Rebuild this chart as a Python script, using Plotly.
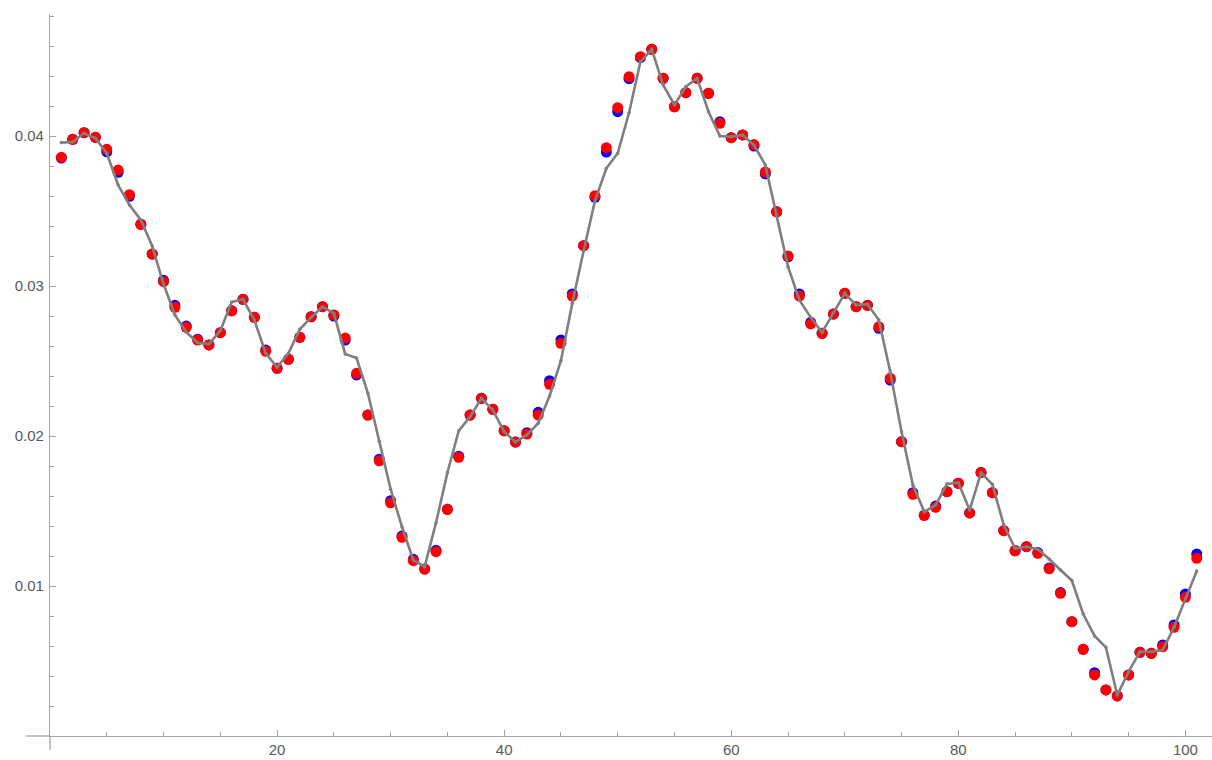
import plotly.graph_objects as go

# sample index
n = list(range(1, 102))

# observed series (red) read point by point
observed = [
    0.03858, 0.03978, 0.04022, 0.03991, 0.03911, 0.03773, 0.03609, 0.03411, 0.03213, 0.03029,
    0.02858, 0.02725, 0.02640, 0.02607, 0.02689, 0.02835, 0.02911, 0.02791, 0.02565, 0.02451,
    0.02511, 0.02658, 0.02795, 0.02862, 0.02807, 0.02653, 0.02418, 0.02140, 0.01835, 0.01555,
    0.01325, 0.01169, 0.01113, 0.01229, 0.01511, 0.01858, 0.02140, 0.02251, 0.02178, 0.02035,
    0.01960, 0.02013, 0.02140, 0.02345, 0.02618, 0.02933, 0.03269, 0.03602, 0.03922, 0.04189,
    0.04395, 0.04529, 0.04578, 0.04385, 0.04195, 0.04289, 0.04385, 0.04285, 0.04085, 0.03989,
    0.04007, 0.03943, 0.03760, 0.03495, 0.03200, 0.02933, 0.02747, 0.02685, 0.02813, 0.02951,
    0.02862, 0.02871, 0.02729, 0.02385, 0.01962, 0.01611, 0.01471, 0.01525, 0.01629, 0.01685,
    0.01487, 0.01757, 0.01622, 0.01369, 0.01235, 0.01262, 0.01218, 0.01115, 0.00951, 0.00762,
    0.00578, 0.00407, 0.00307, 0.00267, 0.00407, 0.00558, 0.00551, 0.00595, 0.00725, 0.00925,
    0.01185,
]

# reference series (blue), nearly identical to the observed one
reference = [
    0.03853, 0.03978, 0.04022, 0.03991, 0.03895, 0.03758, 0.03598, 0.03411, 0.03213, 0.03038,
    0.02871, 0.02733, 0.02645, 0.02607, 0.02689, 0.02835, 0.02911, 0.02791, 0.02573, 0.02451,
    0.02511, 0.02658, 0.02795, 0.02862, 0.02800, 0.02640, 0.02407, 0.02140, 0.01845, 0.01569,
    0.01333, 0.01178, 0.01113, 0.01238, 0.01511, 0.01865, 0.02140, 0.02251, 0.02178, 0.02035,
    0.01960, 0.02022, 0.02158, 0.02369, 0.02640, 0.02947, 0.03269, 0.03591, 0.03893, 0.04162,
    0.04382, 0.04522, 0.04578, 0.04385, 0.04195, 0.04289, 0.04385, 0.04285, 0.04095, 0.03989,
    0.04007, 0.03933, 0.03747, 0.03495, 0.03195, 0.02947, 0.02758, 0.02685, 0.02813, 0.02951,
    0.02862, 0.02871, 0.02718, 0.02373, 0.01962, 0.01622, 0.01471, 0.01533, 0.01629, 0.01685,
    0.01487, 0.01757, 0.01622, 0.01369, 0.01235, 0.01262, 0.01223, 0.01120, 0.00956, 0.00762,
    0.00578, 0.00422, 0.00307, 0.00267, 0.00407, 0.00558, 0.00551, 0.00607, 0.00740, 0.00947,
    0.01213,
]

# fitted curve (gray)
fitted = [
    0.03956, 0.03960, 0.04018, 0.03985, 0.03885, 0.03673, 0.03540, 0.03440, 0.03267, 0.03013,
    0.02807, 0.02693, 0.02622, 0.02613, 0.02702, 0.02893, 0.02911, 0.02773, 0.02551, 0.02458,
    0.02551, 0.02711, 0.02791, 0.02862, 0.02818, 0.02547, 0.02520, 0.02285, 0.01965, 0.01645,
    0.01395, 0.01173, 0.01129, 0.01422, 0.01755, 0.02035, 0.02129, 0.02251, 0.02173, 0.02029,
    0.01960, 0.02007, 0.02085, 0.02267, 0.02502, 0.02885, 0.03235, 0.03569, 0.03785, 0.03885,
    0.04155, 0.04495, 0.04578, 0.04340, 0.04207, 0.04329, 0.04385, 0.04162, 0.04000, 0.03995,
    0.04007, 0.03940, 0.03807, 0.03473, 0.03129, 0.02907, 0.02791, 0.02691, 0.02822, 0.02951,
    0.02873, 0.02878, 0.02773, 0.02429, 0.02029, 0.01673, 0.01495, 0.01540, 0.01680, 0.01689,
    0.01507, 0.01755, 0.01678, 0.01407, 0.01251, 0.01262, 0.01245, 0.01180, 0.01107, 0.01036,
    0.00813, 0.00667, 0.00591, 0.00273, 0.00429, 0.00562, 0.00562, 0.00573, 0.00725, 0.00918,
    0.01100,
]

x_ticks = [20, 40, 60, 80, 100]
y_ticks = [0.01, 0.02, 0.03, 0.04]

W, H = 1212, 760
M_L, M_R, M_T, M_B = 50, 0, 14, 24
PX_PER_X = 11.354
PX_PER_Y = 15000.0
plot_w = W - M_L - M_R
plot_h = H - M_T - M_B
x_max = plot_w / PX_PER_X
y_max = plot_h / PX_PER_Y

AXIS = "#a3a3a3"
LABEL = "#5a5a5a"
FONT = "Liberation Sans, Arial, sans-serif"

fig = go.Figure()
fig.add_trace(go.Scatter(x=n, y=reference, mode="markers",
                         marker=dict(color="#0000ff", size=11, line=dict(width=0)),
                         cliponaxis=False, showlegend=False))
fig.add_trace(go.Scatter(x=n, y=observed, mode="markers",
                         marker=dict(color="#ff0000", size=11, line=dict(width=0)),
                         cliponaxis=False, showlegend=False))
fig.add_trace(go.Scatter(x=n, y=fitted, mode="lines+markers",
                         line=dict(color="#7f7f7f", width=2.6),
                         marker=dict(color="#7f7f7f", size=3.5),
                         cliponaxis=False, showlegend=False))

axis_common = dict(showgrid=False, zeroline=False, showline=True, linecolor=AXIS,
                   linewidth=1.3, ticks="inside", ticklen=6, tickwidth=1,
                   tickcolor=AXIS, automargin=False,
                   tickfont=dict(family=FONT, size=15, color=LABEL))

fig.update_xaxes(range=[0, x_max], tickmode="array", tickvals=x_ticks,
                 ticktext=[str(v) for v in x_ticks],
                 minor=dict(dtick=5, tick0=0, ticks="inside", ticklen=3.5,
                            tickcolor=AXIS, tickwidth=1),
                 **axis_common)
fig.update_yaxes(range=[0, y_max], tickmode="array", tickvals=y_ticks,
                 ticktext=[f"{v:.2f}" for v in y_ticks],
                 minor=dict(dtick=0.002, tick0=0, ticks="inside", ticklen=3.5,
                            tickcolor=AXIS, tickwidth=1),
                 ticklabelstandoff=2,
                 **axis_common)

# axis lines continue a little past the origin
fig.add_shape(type="line", xref="paper", yref="paper",
              x0=-24 / plot_w, x1=0, y0=0, y1=0,
              line=dict(color=AXIS, width=1.3))
fig.add_shape(type="line", xref="paper", yref="paper",
              x0=0, x1=0, y0=-14 / plot_h, y1=0,
              line=dict(color=AXIS, width=1.3))

fig.update_layout(width=W, height=H, autosize=False,
                  margin=dict(l=M_L, r=M_R, t=M_T, b=M_B, pad=0),
                  plot_bgcolor="white", paper_bgcolor="white")

fig.write_html("out.html")
